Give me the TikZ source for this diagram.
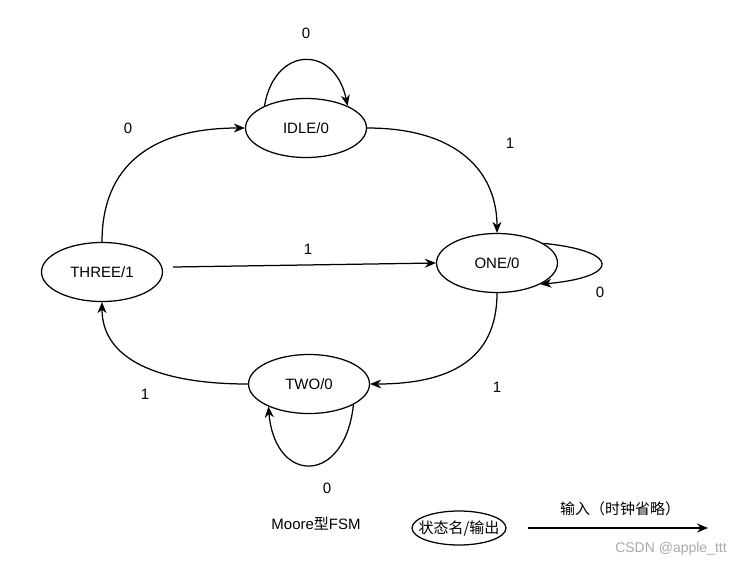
\documentclass[tikz,border=0pt]{standalone}
\usepackage{fontspec}
\setmainfont{Liberation Sans}
\newfontfamily\cjk{Noto Sans CJK SC}
\usetikzlibrary{shapes.geometric,arrows.meta}
\definecolor{wm}{RGB}{170,170,170}
\begin{document}
\begin{tikzpicture}[x=1pt,y=-1pt,
  every node/.style={font=\fontsize{15}{18}\selectfont},
  state/.style={draw, ellipse, line width=1.25pt, inner sep=0pt, minimum width=121pt, minimum height=59pt},
  edge/.style={line width=1.25pt, -{Stealth[length=11pt,width=9pt,inset=3.5pt]}},
  lbl/.style={inner sep=0pt}]
\useasboundingbox[fill=white] (0,0) rectangle (743,566);

% states
\node[state] (idle)  at (306,128) {IDLE/0};
\node[state] (one)   at (497,263) {ONE/0};
\node[state] (two)   at (309,384) {TWO/0};
\node[state] (three) at (102,272) {THREE/1};

% transitions
\draw[edge] (three.north) .. controls +(0,-75) and +(-95,0) .. (idle.west);
\draw[edge] (idle.east) .. controls +(94,0) and +(0,-58) .. (one.north);
\coordinate (s1) at (173,267);
\draw[edge] (s1) -- (one.west);
\draw[edge] (one.south) .. controls +(0,67) and +(79,0) .. (two.east);
\draw[edge] (two.west) .. controls +(-88,0) and +(0,58) .. (three.south);

% self loops
\draw[edge] (idle.152) .. controls (275,45) and (335,45) .. (idle.28);
\draw[edge] (one.23) .. controls (621,251) and (621,277) .. (one.-26);
\draw[edge] (two.-25) .. controls (345,485) and (275,485) .. (two.-151);

% labels
\node[lbl] (l1) at (306,33)  {0};
\node[lbl] (l2) at (510,143) {1};
\node[lbl] (l3) at (308,249) {1};
\node[lbl] (l4) at (600,292) {0};
\node[lbl] (l5) at (497,387) {1};
\node[lbl] (l6) at (327,488) {0};
\node[lbl] (l7) at (145,394) {1};
\node[lbl] (l8) at (128,128) {0};

% legend
\node[lbl] (moore) at (316,524) {Moore{\cjk 型}FSM};
\node[draw, ellipse, line width=1.25pt, inner sep=0pt, minimum width=94pt, minimum height=34pt] (leg) at (459,528) {};
\node[lbl] (legt) at (leg.center) {\cjk 状态名/输出};
\coordinate (la) at (528,528);
\coordinate (lb) at (708,528);
\draw[edge] (la) -- (lb);
\node[lbl] (legin) at (620,509) {\cjk 输入（时钟省略）};

% watermark
\node[lbl, text=wm, font=\fontsize{14}{16}\selectfont] (wmk) at (671,549) {CSDN @apple\_ttt};
\end{tikzpicture}
\end{document}
